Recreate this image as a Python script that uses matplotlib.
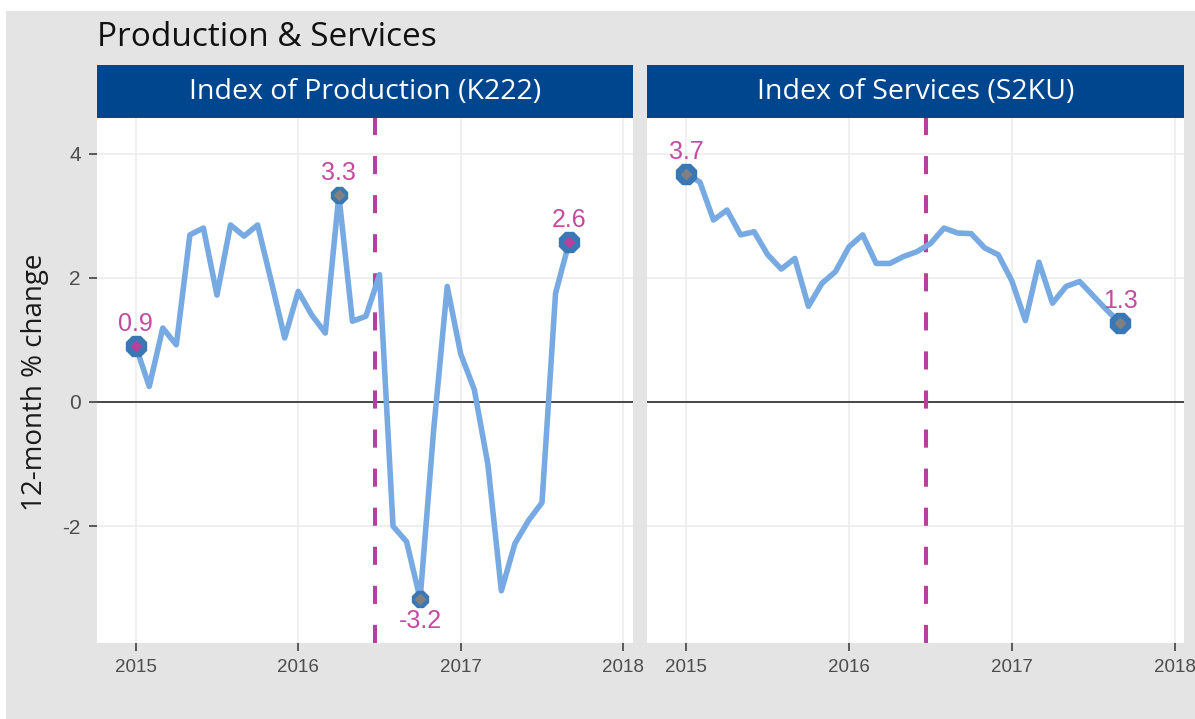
import numpy as np
import matplotlib.pyplot as plt
from matplotlib.patches import Rectangle

plt.rcParams['font.family'] = ['Liberation Sans', 'DejaVu Sans']
plt.rcParams['axes.unicode_minus'] = False

# monthly data, Jan 2015 -> Sep 2017
dates = 2015 + np.arange(33) / 12
prod = [0.9, 0.25, 1.19, 0.92, 2.69, 2.80, 1.72, 2.85, 2.67, 2.85, 1.95, 1.03,
        1.78, 1.40, 1.11, 3.33, 1.30, 1.38, 2.05, -2.0, -2.25, -3.17, -0.45, 1.86,
        0.77, 0.20, -1.0, -3.04, -2.28, -1.91, -1.62, 1.75, 2.57]
serv = [3.67, 3.54, 2.93, 3.09, 2.69, 2.74, 2.37, 2.14, 2.31, 1.54, 1.91, 2.10,
        2.50, 2.69, 2.23, 2.23, 2.34, 2.42, 2.55, 2.80, 2.72, 2.71, 2.48, 2.37,
        1.95, 1.31, 2.25, 1.59, 1.86, 1.94, 1.71, 1.48, 1.27]
titles = ['Index of Production (K222)', 'Index of Services (S2KU)']
referendum = 2016.475
year_ticks = [2015, 2016, 2017, 2018]
y_ticks = [-2, 0, 2, 4]

W, H = 1195, 719
fig = plt.figure(figsize=(W / 100, H / 100), dpi=100)
fig.patch.set_facecolor('white')
fig.add_artist(Rectangle((6 / W, 0), 1, 1 - 11 / H, transform=fig.transFigure,
                         facecolor='#e4e4e4', edgecolor='none', zorder=-10))

line_col = '#77a9e3'
dark = '#3a78b5'
magenta = '#b8409a'
lab_col = '#c24b9f'
head_font = ['Open Sans', 'DejaVu Sans']

panels = [(96.7, 632.7, prod, titles[0]), (647.3, 1184, serv, titles[1])]
for i, (x0, x1, vals, name) in enumerate(panels):
    left = x0 / W
    width = (x1 - x0) / W
    ax = fig.add_axes([left, 1 - 642.7 / H, width, (642.7 - 118.3) / H])
    ax.set_facecolor('white')
    for s in ax.spines.values():
        s.set_visible(False)
    ax.set_xlim(2014.76, 2018.058)
    ax.set_ylim(-3.876, 4.567)
    ax.set_xticks(year_ticks)
    ax.set_xticklabels([str(y) for y in year_ticks])
    ax.set_yticks(y_ticks)
    ax.grid(True, color='#ebebeb', lw=1.1)
    ax.set_axisbelow(True)
    ax.tick_params(colors='#333333', labelcolor='#4d4d4d', labelsize=13.5,
                   length=5.5, width=1.1, pad=6)
    ax.tick_params(axis='y', labelsize=15)
    if i == 1:
        ax.tick_params(axis='y', left=False, labelleft=False)

    ax.axhline(0, color='#1a1a1a', lw=1.1, zorder=2)
    ax.axvline(referendum, color=magenta, lw=2.9, dashes=(4.5, 5.2), zorder=3)
    ax.plot(dates, vals, color=line_col, lw=4, zorder=4)

    v = np.array(vals)
    i_first, i_last = 0, len(v) - 1
    i_max, i_min = int(v.argmax()), int(v.argmin())
    # first / last points
    for k in [i_first, i_last]:
        ax.plot(dates[k], v[k], marker='8', ms=15.5, color=dark, zorder=5)
        ax.plot(dates[k], v[k], marker='D', ms=5.5, color=magenta, zorder=6)
    # max / min points
    for k in [i_max, i_min]:
        ax.plot(dates[k], v[k], marker='8', ms=13, color=dark, zorder=7)
        ax.plot(dates[k], v[k], marker='D', ms=5, color='#808080', zorder=8)

    labels = {i_first: 1, i_last: 1}
    labels.setdefault(i_max, 1)
    labels.setdefault(i_min, -1)
    for k, d in labels.items():
        ax.annotate(f'{v[k]:.1f}', (dates[k], v[k]), xytext=(0, 16 * d),
                    textcoords='offset points', ha='center', va='center',
                    color=lab_col, fontsize=18, zorder=9)

    # facet strip
    fig.add_artist(Rectangle((left, 1 - 118.3 / H), width, 53.3 / H,
                             transform=fig.transFigure, facecolor='#00468f',
                             edgecolor='none'))
    fig.text(left + width / 2, 1 - 92 / H, name, ha='center', va='center',
             color='white', fontsize=20.5, family=head_font)

fig.text(97 / W, 1 - 38 / H, 'Production & Services', ha='left', va='center',
         fontsize=24, color='#111111', family=head_font)
fig.text(35 / W, 1 - 382 / H, '12-month % change', rotation=90, ha='center',
         va='center', fontsize=20, color='#1a1a1a', family=head_font)

fig.savefig('out.png', dpi=100)
